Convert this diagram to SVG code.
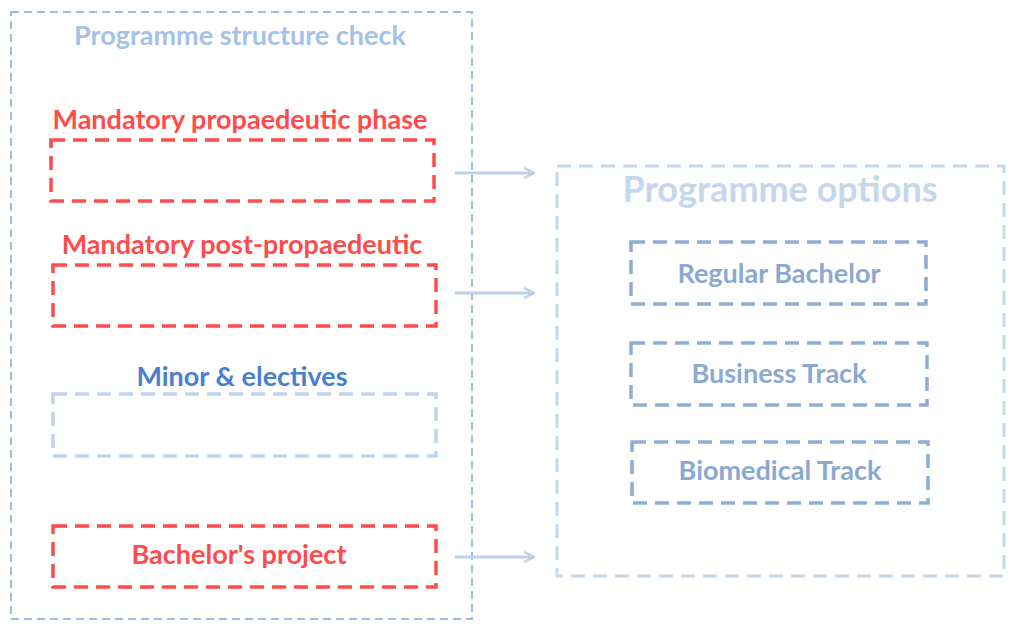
<svg xmlns="http://www.w3.org/2000/svg" width="1025" height="628" viewBox="0 0 1025 628">
<defs>
<style>
.t{font-family:Lato,"Open Sans","Liberation Sans",sans-serif;font-weight:bold;text-anchor:middle}
.red{fill:none;stroke:#ff4b4b;stroke-width:3.5;stroke-dasharray:14 8}
.pale{fill:none;stroke:#c3d4ea;stroke-width:3.5;stroke-dasharray:14 8}
.opt{fill:none;stroke:#8eacd4;stroke-width:3.5;stroke-dasharray:14 8}
.conn{fill:none;stroke:#c0d2ea;stroke-width:3}
</style>
<marker id="ah" viewBox="0 0 12 12" refX="11" refY="6" markerWidth="12" markerHeight="12" markerUnits="userSpaceOnUse" orient="auto">
<path d="M1 1 L11 6 L1 11" fill="none" stroke="#c0d2ea" stroke-width="2.5"/>
</marker>
</defs>
<rect width="1025" height="628" fill="#fff"/>
<g id="structure">
<rect x="11" y="12" width="461" height="607" fill="none" stroke="#9dbde6" stroke-width="2" stroke-dasharray="8 5"/>
<text class="t" x="240" y="45" font-size="27" fill="#a4c1e8">Programme structure check</text>
</g>
<g id="propaedeutic">
<text class="t" x="240" y="129" font-size="27" fill="#ff4b4b">Mandatory propaedeutic phase</text>
<rect class="red" x="51" y="140" width="383" height="61"/>
</g>
<g id="postpropaedeutic">
<text class="t" x="242" y="254" font-size="27" fill="#ff4b4b">Mandatory post-propaedeutic</text>
<rect class="red" x="53" y="265" width="383" height="61"/>
</g>
<g id="minor">
<text class="t" x="242" y="386" font-size="27" fill="#4a7fcf">Minor &amp; electives</text>
<rect class="pale" x="53" y="394" width="383" height="62"/>
</g>
<g id="project">
<rect class="red" x="53" y="526" width="383" height="61"/>
<text class="t" x="239" y="564" font-size="27" fill="#ff4b4b">Bachelor's project</text>
</g>
<g id="options">
<rect x="557" y="166" width="447" height="410" fill="none" stroke="#c6d7ec" stroke-width="3" stroke-dasharray="14 8"/>
<text class="t" x="780" y="202" font-size="36" fill="#c6d7ec">Programme options</text>
</g>
<g id="regular">
<rect class="opt" x="631" y="242" width="295" height="62"/>
<text class="t" x="779" y="283" font-size="27" fill="#8aa8d2">Regular Bachelor</text>
</g>
<g id="business">
<rect class="opt" x="631" y="343" width="296" height="62"/>
<text class="t" x="779" y="383" font-size="27" fill="#8aa8d2">Business Track</text>
</g>
<g id="biomedical">
<rect class="opt" x="632" y="442" width="296" height="61"/>
<text class="t" x="780" y="480" font-size="27" fill="#8aa8d2">Biomedical Track</text>
</g>
<g id="connectors">
<line class="conn" x1="455" y1="173" x2="534" y2="173" marker-end="url(#ah)"/>
<line class="conn" x1="455" y1="293" x2="534" y2="293" marker-end="url(#ah)"/>
<line class="conn" x1="455" y1="557" x2="534" y2="557" marker-end="url(#ah)"/>
</g>
</svg>
